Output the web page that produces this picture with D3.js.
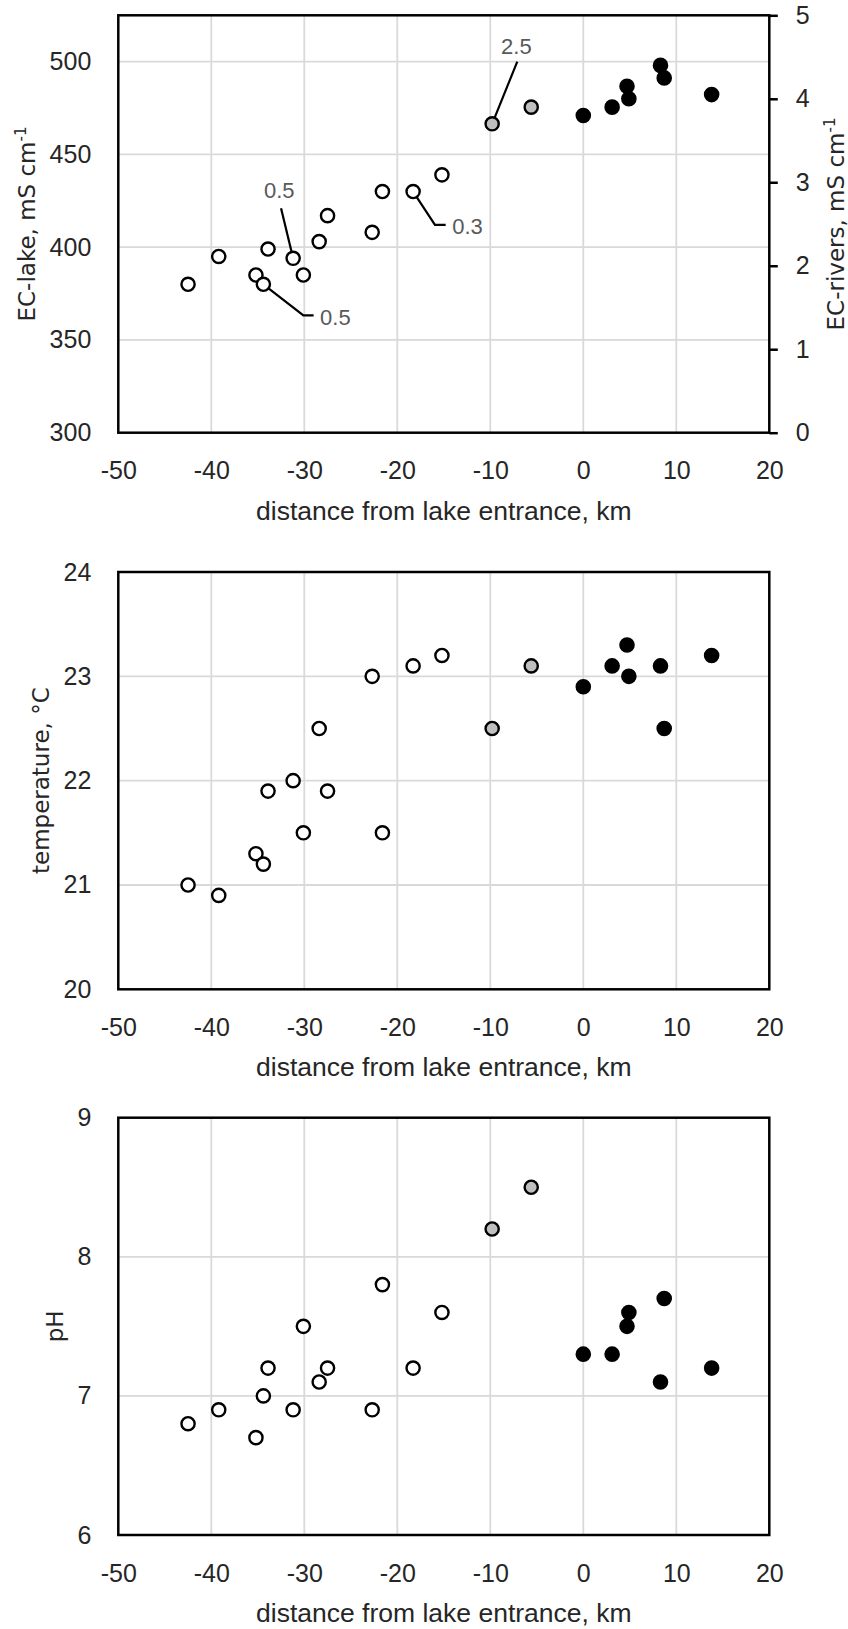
<!DOCTYPE html>
<html>
<head>
<meta charset="utf-8">
<script src="https://cdn.jsdelivr.net/npm/d3@7"></script>
<style>
  body { margin: 0; background: #fff; }
  svg { display: block; }
</style>
</head>
<body>
<svg id="chart"></svg>
<script>
// sampling sites, km from the lake entrance (negative = in the lake)
var distance = [-42.5, -39.2, -35.2, -34.4, -33.9, -31.2, -30.1, -28.4, -27.5, -22.7, -21.6, -18.3, -15.2,
                -9.8, -5.6,
                0, 3.1, 4.7, 4.9, 8.3, 8.7, 13.8];
// lake = open circle, mix = grey, river = black
var siteType = ["lake", "lake", "lake", "lake", "lake", "lake", "lake", "lake", "lake", "lake", "lake", "lake", "lake",
                "mix", "mix",
                "river", "river", "river", "river", "river", "river", "river"];

// EC of lake sites (left axis, mS/cm) and of the other sites (right axis, mS/cm)
var ecLake = [380, 395, 385, 380, 399, 394, 385, 403, 417, 408, 430, 430, 439];
var ecRivers = [3.7, 3.9, 3.8, 3.9, 4.15, 4.0, 4.4, 4.25, 4.05];
var temperature = [21.0, 20.9, 21.3, 21.2, 21.9, 22.0, 21.5, 22.5, 21.9, 23.0, 21.5, 23.1, 23.2,
                   22.5, 23.1,
                   22.9, 23.1, 23.3, 23.0, 23.1, 22.5, 23.2];
var pH = [6.8, 6.9, 6.7, 7.0, 7.2, 6.9, 7.5, 7.1, 7.2, 6.9, 7.8, 7.2, 7.6,
          8.2, 8.5,
          7.3, 7.3, 7.5, 7.6, 7.1, 7.7, 7.2];

var xTicks = [-50, -40, -30, -20, -10, 0, 10, 20];
var ecLakeTicks = [300, 350, 400, 450, 500];
var ecRiverTicks = [0, 1, 2, 3, 4, 5];
var tempTicks = [20, 21, 22, 23, 24];
var pHTicks = [6, 7, 8, 9];

// labels on the EC panel
var noteText = ["2.5", "0.5", "0.3", "0.5"];
var noteSite = [13, 5, 11, 3];

var width = 848, height = 1629;
var left = 118.3, right = 769.3;
var tickFont = '"Liberation Sans", Arial, sans-serif';
var titleFont = '"DejaVu Sans", Verdana, sans-serif';
var ink = "#262626";
var plain = function (d) { return String(d); };

var svg = d3.select("#chart").attr("width", width).attr("height", height);
svg.append("rect").attr("width", width).attr("height", height).attr("fill", "#fff");

var x = d3.scaleLinear().domain([-50, 20]).range([left, right]);

function fillFor(t) {
  return t == "lake" ? "#fff" : (t == "mix" ? "#bfbfbf" : "#000");
}

function panel(top, bottom, domain, ticks, title, titleX) {
  var y = d3.scaleLinear().domain(domain).range([bottom, top]);
  var g = svg.append("g");

  // grid
  g.selectAll("line.vgrid")
    .data(xTicks.slice(1, -1))
    .enter().append("line")
    .attr("x1", function (d) { return x(d); })
    .attr("x2", function (d) { return x(d); })
    .attr("y1", top).attr("y2", bottom)
    .attr("stroke", "#d9d9d9").attr("stroke-width", 1.8);
  g.selectAll("line.hgrid")
    .data(ticks.filter(function (t) { return t > domain[0] && t < domain[1]; }))
    .enter().append("line")
    .attr("x1", left).attr("x2", right)
    .attr("y1", function (d) { return y(d); })
    .attr("y2", function (d) { return y(d); })
    .attr("stroke", "#d9d9d9").attr("stroke-width", 1.8);

  // axes (labels only, the frame is drawn below)
  var ax = g.append("g")
    .attr("transform", "translate(" + left + ",0)")
    .call(d3.axisLeft(y).tickValues(ticks).tickFormat(plain).tickSize(0).tickPadding(27));
  var bx = g.append("g")
    .attr("transform", "translate(0," + bottom + ")")
    .call(d3.axisBottom(x).tickValues(xTicks).tickFormat(plain).tickSize(0).tickPadding(29));
  [ax, bx].forEach(function (a) {
    a.select(".domain").remove();
    a.selectAll("text").attr("font-family", tickFont).attr("font-size", 25).attr("fill", ink);
  });

  g.append("rect")
    .attr("x", left).attr("y", top)
    .attr("width", right - left).attr("height", bottom - top)
    .attr("fill", "none").attr("stroke", "#000").attr("stroke-width", 2.5);

  g.append("text")
    .attr("x", (left + right) / 2).attr("y", bottom + 87)
    .attr("text-anchor", "middle")
    .attr("font-family", tickFont).attr("font-size", 26.5).attr("fill", ink)
    .text("distance from lake entrance, km");

  var t = g.append("text")
    .attr("transform", "translate(" + titleX + "," + (top + bottom) / 2 + ") rotate(-90)")
    .attr("text-anchor", "middle").attr("dy", "0.35em")
    .attr("font-family", titleFont).attr("font-size", 23).attr("fill", ink);
  title(t);

  return { g: g, y: y };
}

function markers(g, pts) {
  g.selectAll("circle.pt")
    .data(pts)
    .enter().append("circle")
    .attr("class", "pt")
    .attr("cx", function (d) { return d.px; })
    .attr("cy", function (d) { return d.py; })
    .attr("r", 6.6)
    .attr("fill", function (d) { return fillFor(d.type); })
    .attr("stroke", "#000").attr("stroke-width", 2.4);
}

function superTitle(txt) {
  return function (t) {
    t.append("tspan").text(txt);
    t.append("tspan").attr("baseline-shift", "super").attr("font-size", 15).text("-1");
  };
}

// ---- EC panel ----
var p1 = panel(15.3, 432.7, [300, 525], ecLakeTicks, superTitle("EC-lake, mS cm"), 27);
var yR = d3.scaleLinear().domain([0, 5]).range([432.7, 15.3]);
var rAxis = p1.g.append("g")
  .attr("transform", "translate(" + right + ",0)")
  .call(d3.axisRight(yR).tickValues(ecRiverTicks).tickFormat(plain).tickSizeOuter(0).tickSizeInner(8.5).tickPadding(18));
rAxis.select(".domain").remove();
rAxis.selectAll("line").attr("stroke", "#000").attr("stroke-width", 2.5);
rAxis.selectAll("text").attr("font-family", tickFont).attr("font-size", 25).attr("fill", ink);

var rTitle = p1.g.append("text")
  .attr("transform", "translate(836," + (15.3 + 432.7) / 2 + ") rotate(-90)")
  .attr("text-anchor", "middle").attr("dy", "0.35em")
  .attr("font-family", titleFont).attr("font-size", 23).attr("fill", ink);
superTitle("EC-rivers, mS cm")(rTitle);

var ri = 0;
var ecPts = distance.map(function (d, i) {
  var py = siteType[i] == "lake" ? p1.y(ecLake[i]) : yR(ecRivers[ri++]);
  return { px: x(d), py: py, type: siteType[i] };
});

// leader lines and values
var y1 = p1.y;
var notes = [
  { path: [[-7.1, 500]], label: [-7.2, 508.5], anchor: "middle" },
  { path: [[-32.5, 421]], label: [-32.7, 430.8], anchor: "middle" },
  { path: [[-15.95, 412], [-14.8, 412]], label: [-14.1, 411], anchor: "start" },
  { path: [[-30.1, 363.2], [-29.0, 363.2]], label: [-28.3, 362.2], anchor: "start" }
];
notes.forEach(function (n, k) {
  var s = ecPts[noteSite[k]];
  var pts = [[s.px, s.py]].concat(n.path.map(function (p) { return [x(p[0]), y1(p[1])]; }));
  p1.g.append("path")
    .attr("d", d3.line()(pts))
    .attr("fill", "none").attr("stroke", "#000").attr("stroke-width", 2.2);
  p1.g.append("text")
    .attr("x", x(n.label[0])).attr("y", y1(n.label[1]))
    .attr("dy", "0.35em").attr("text-anchor", n.anchor)
    .attr("font-family", tickFont).attr("font-size", 22).attr("fill", "#595959")
    .text(noteText[k]);
});
markers(p1.g, ecPts);

// ---- temperature panel ----
var p2 = panel(572, 989.3, [20, 24], tempTicks, function (t) { t.text("temperature, \u00B0C"); }, 41);
markers(p2.g, distance.map(function (d, i) {
  return { px: x(d), py: p2.y(temperature[i]), type: siteType[i] };
}));

// ---- pH panel ----
var p3 = panel(1117.7, 1535, [6, 9], pHTicks, function (t) { t.text("pH"); }, 55);
markers(p3.g, distance.map(function (d, i) {
  return { px: x(d), py: p3.y(pH[i]), type: siteType[i] };
}));
</script>
</body>
</html>
